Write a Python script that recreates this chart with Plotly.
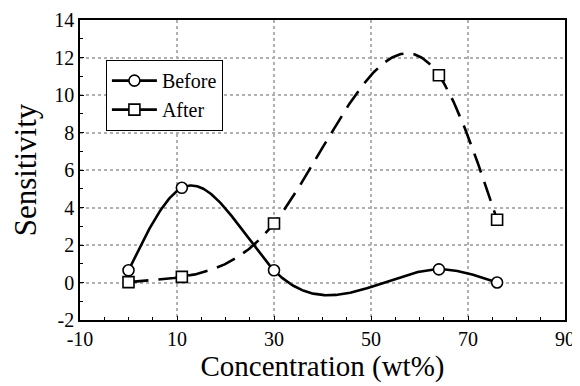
import numpy as np
import plotly.graph_objects as go

conc = [0, 11, 30, 64, 76]
before = [0.65, 5.05, 0.65, 0.7, 0.0]
after = [0.02, 0.3, 3.15, 11.05, 3.35]
x_ticks = [-10, 10, 30, 50, 70, 90]
x_ticklabels = ["-10", "10", "30", "50", "70", "90"]
y_ticks = [-2, 0, 2, 4, 6, 8, 10, 12, 14]
y_ticklabels = ["-2", "0", "2", "4", "6", "8", "10", "12", "14"]

font_family = "Liberation Serif, Times New Roman, serif"


def natural_spline(xs, ys, n=400):
    """Smooth curve through the data points (natural cubic spline)."""
    x = np.asarray(xs, float)
    y = np.asarray(ys, float)
    k = len(x)
    h = np.diff(x)
    A = np.zeros((k, k))
    b = np.zeros(k)
    A[0, 0] = A[-1, -1] = 1
    for i in range(1, k - 1):
        A[i, i - 1] = h[i - 1]
        A[i, i] = 2 * (h[i - 1] + h[i])
        A[i, i + 1] = h[i]
        b[i] = 6 * ((y[i + 1] - y[i]) / h[i] - (y[i] - y[i - 1]) / h[i - 1])
    M = np.linalg.solve(A, b)
    xx = np.linspace(x[0], x[-1], n)
    idx = np.clip(np.searchsorted(x, xx) - 1, 0, k - 2)
    x0, x1 = x[idx], x[idx + 1]
    hh = x1 - x0
    t0 = x1 - xx
    t1 = xx - x0
    yy = (M[idx] * t0 ** 3 / (6 * hh) + M[idx + 1] * t1 ** 3 / (6 * hh)
          + (y[idx] / hh - M[idx] * hh / 6) * t0
          + (y[idx + 1] / hh - M[idx + 1] * hh / 6) * t1)
    return xx, yy


series = [
    ("Before", before, "circle", "solid"),
    ("After", after, "square", "20px,10px"),
]

fig = go.Figure()
for name, vals, sym, dash in series:
    sx, sy = natural_spline(conc, vals)
    fig.add_trace(go.Scatter(
        x=sx, y=sy, mode="lines", showlegend=False, hoverinfo="skip",
        line=dict(color="black", width=2.6, dash=dash),
    ))
for name, vals, sym, dash in series:
    fig.add_trace(go.Scatter(
        x=conc, y=vals, name=name, mode="markers", showlegend=False,
        marker=dict(symbol=sym, size=11, color="white", line=dict(width=1.6, color="black")),
    ))
for name, vals, sym, dash in series:
    # legend entry (line + marker sample)
    fig.add_trace(go.Scatter(
        x=[None], y=[None], name=name, mode="lines+markers",
        line=dict(color="black", width=2.6),
        marker=dict(symbol=sym, size=11, color="white", line=dict(width=1.6, color="black")),
    ))

axis_common = dict(
    showgrid=True, gridcolor="#b0b0b0", griddash="dot", gridwidth=1.5,
    showline=True, linecolor="black", linewidth=1.5, mirror=True,
    ticks="inside", ticklen=4, tickcolor="black",
    zeroline=False, automargin=False,
    tickfont=dict(family=font_family, size=20, color="black"),
)

fig.update_xaxes(
    range=[-10, 90], tickvals=x_ticks, ticktext=x_ticklabels,
    minor=dict(ticks="inside", ticklen=3, dtick=5, tick0=-10, showgrid=False, tickcolor="black"),
    title=dict(text="Concentration (wt%)", font=dict(family=font_family, size=29, color="black"), standoff=2),
    **axis_common,
)
fig.update_yaxes(
    range=[-2, 14], tickvals=y_ticks, ticktext=y_ticklabels,
    minor=dict(ticks="inside", ticklen=3, dtick=1, showgrid=False, tickcolor="black"),
    title=dict(text="Sensitivity", font=dict(family=font_family, size=31, color="black"), standoff=14),
    **axis_common,
)

# the page's body margin offsets the figure by 8 px, so size it to fit the window
fig.update_layout(
    width=572, height=378,
    margin=dict(l=72, r=15, t=12, b=66),
    plot_bgcolor="white", paper_bgcolor="white",
    showlegend=True,
    legend=dict(
        x=0.053, y=0.867, xanchor="left", yanchor="top",
        bgcolor="white", bordercolor="black", borderwidth=1.2,
        font=dict(family=font_family, size=20, color="black"),
        itemwidth=45, tracegroupgap=0,
    ),
)

fig.write_html("out.html")
